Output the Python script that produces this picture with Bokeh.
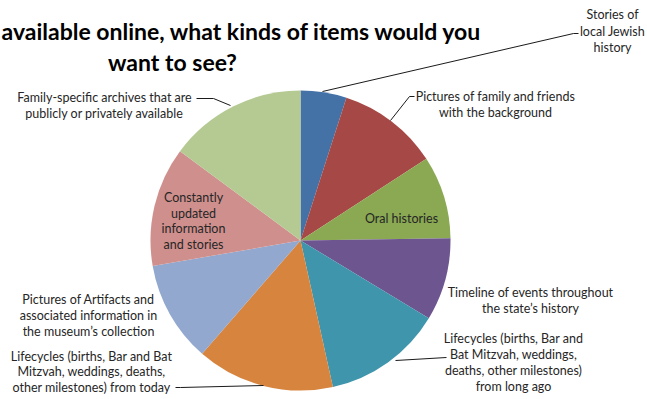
import numpy as np
from bokeh.plotting import figure
from bokeh.models import Range1d
from bokeh.core.properties import value
from bokeh.embed import file_html
from bokeh.resources import INLINE

# ---- data ----
categories = [
    "Stories of local Jewish history",
    "Pictures of family and friends with the background",
    "Oral histories",
    "Timeline of events throughout the state's history",
    "Lifecycles (births, Bar and Bat Mitzvah, weddings, deaths, other milestones) from long ago",
    "Lifecycles (births, Bar and Bat Mitzvah, weddings, deaths, other milestones) from today",
    "Pictures of Artifacts and associated information in the museum's collection",
    "Constantly updated information and stories",
    "Family-specific archives that are publicly or privately available",
]
counts = [5, 11, 9, 9, 13, 15, 11, 13, 15]
colors = ["#4471A6", "#A64845", "#8AA952", "#6D5590", "#3F95AB",
          "#D7843F", "#93A8CF", "#CF8F8D", "#B5CA93"]
title_lines = ["available online, what kinds of items would you", "want to see?"]

W, H = 647, 399
p = figure(width=W, height=H, x_range=Range1d(0, W), y_range=Range1d(0, H),
           output_backend="svg", toolbar_location=None, min_border=0)
p.axis.visible = False
p.grid.visible = False
p.outline_line_color = None
p.background_fill_color = "white"
p.border_fill_color = "white"

def Y(y):
    return H - y

# ---- pie ----
cx, cy, r = 300, Y(240), 150
vals = np.array(counts, dtype=float)
frac = vals / vals.sum()
cum = np.concatenate([[0], np.cumsum(frac)])
starts = np.pi / 2 - cum[1:] * 2 * np.pi
ends = np.pi / 2 - cum[:-1] * 2 * np.pi
p.wedge(x=[cx] * len(vals), y=[cy] * len(vals), radius=r,
        start_angle=list(starts), end_angle=list(ends),
        fill_color=colors, line_color=None)

font = value("Lato")
tcol = "#262626"

def lines_at(xc, ys, lines, align="center", size="12.5px", color=tcol):
    p.text(x=[xc] * len(lines), y=[Y(v) for v in ys], text=lines,
           text_font=font, text_font_size=size, text_align=align,
           text_baseline="middle", text_color=color)

# ---- title ----
p.text(x=[1], y=[Y(30)], text=[title_lines[0]], text_font=font,
       text_font_size="23px", text_font_style="bold", text_align="left",
       text_baseline="middle", text_color="black")
p.text(x=[172], y=[Y(61)], text=[title_lines[1]], text_font=font,
       text_font_size="23px", text_font_style="bold", text_align="center",
       text_baseline="middle", text_color="black")

# ---- labels ----
lines_at(612, [14, 31, 47], ["Stories of", "local Jewish", "history"])
lines_at(495, [96, 112], ["Pictures of family and friends", "with the background"])
lines_at(401, [218], ["Oral histories"])
lines_at(530, [292, 308], ["Timeline of events throughout", "the state\u2019s history"])
lines_at(513, [338, 354, 370, 386], ["Lifecycles (births, Bar and", "Bat Mitzvah, weddings,",
                                     "deaths, other milestones)", "from long ago"])
lines_at(91, [356, 371, 387], ["Lifecycles (births, Bar and Bat", "Mitzvah, weddings, deaths,",
                               "other milestones) from today"])
lines_at(88, [299, 315, 331], ["Pictures of Artifacts and", "associated information in",
                               "the museum\u2019s collection"])
lines_at(193, [197, 213, 228, 244], ["Constantly", "updated", "information", "and stories"])
lines_at(104, [97, 113], ["Family-specific archives that are", "publicly or privately available"])

# ---- leader lines ----
lx = [[322, 573, 578], [390, 409, 414], [395, 446], [263, 180, 175], [230, 213, 196]]
ly = [[91, 33, 33], [120, 96, 96], [360, 357], [385, 387, 387], [105, 98, 98]]
p.multi_line(xs=lx, ys=[[Y(v) for v in l] for l in ly], line_color="#1a1a1a", line_width=1)

open("out.html", "w").write(file_html(p, INLINE))
